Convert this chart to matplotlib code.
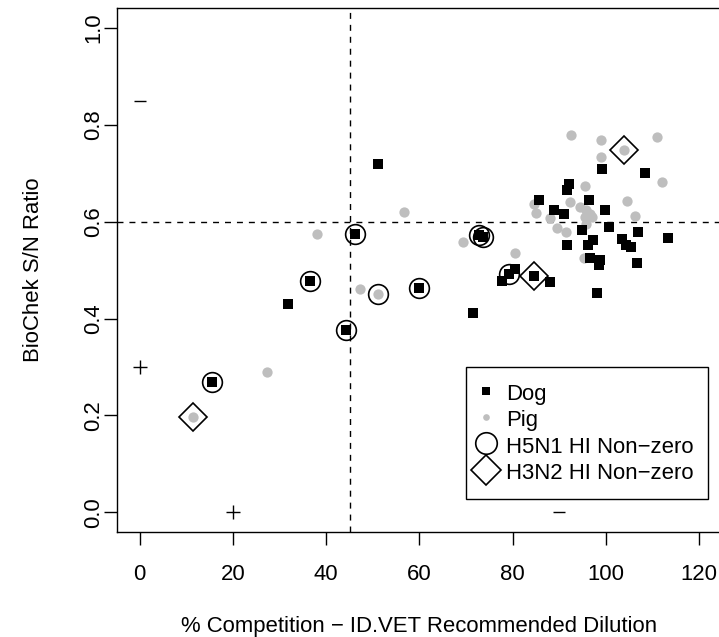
"""Dog / pig serology comparison: ID.VET competition vs BioChek S/N."""

import matplotlib
matplotlib.use("Agg")
import matplotlib.pyplot as plt
from matplotlib.lines import Line2D

plt.rcParams["font.family"] = ["Liberation Sans", "DejaVu Sans"]

# --- data ------------------------------------------------------------------
# hi: "" = none, "H5" = H5N1 HI non-zero, "H3" = H3N2 HI non-zero
dog_x = [51.0, 46.1, 36.5, 31.7, 44.2, 15.5, 59.8, 72.8, 73.6, 71.5,
         80.5, 79.2, 77.6, 84.6, 88.1, 85.6, 91.6, 92.0, 96.4, 88.8,
         91.0, 94.8, 91.6, 97.3, 96.2, 96.6, 98.4, 98.7, 98.0, 99.1,
         108.4, 99.8, 100.6, 106.8, 103.4, 113.4, 104.3, 105.3, 106.6]
dog_y = [0.718, 0.575, 0.478, 0.429, 0.377, 0.269, 0.463, 0.573, 0.569, 0.412,
         0.503, 0.491, 0.478, 0.487, 0.475, 0.644, 0.665, 0.677, 0.644, 0.623,
         0.616, 0.582, 0.551, 0.563, 0.551, 0.524, 0.510, 0.521, 0.453, 0.708,
         0.700, 0.623, 0.589, 0.579, 0.564, 0.566, 0.551, 0.548, 0.514]
dog_hi = ["", "H5", "H5", "", "H5", "H5", "H5", "H5", "H5", "",
          "", "H5", "", "H3", "", "", "", "", "", "",
          "", "", "", "", "", "", "", "", "", "",
          "", "", "", "", "", "", "", "", ""]

pig_x = [38.1, 47.2, 51.1, 27.4, 11.5, 56.7, 69.3, 80.5, 92.4, 99.0,
         103.9, 111.0, 99.0, 112.0, 95.6, 92.3, 104.6, 84.5, 85.0, 94.4,
         95.8, 95.5, 96.9, 106.2, 88.0, 95.8, 89.4, 91.5, 95.2, 96.5]
pig_y = [0.574, 0.460, 0.451, 0.289, 0.197, 0.619, 0.557, 0.536, 0.778, 0.768,
         0.747, 0.774, 0.733, 0.682, 0.673, 0.640, 0.642, 0.636, 0.618, 0.630,
         0.623, 0.609, 0.609, 0.611, 0.607, 0.596, 0.587, 0.579, 0.525, 0.615]
pig_hi = ["", "", "H5", "", "H3", "", "", "", "", "",
          "H3", "", "", "", "", "", "", "", "", "",
          "", "", "", "", "", "", "", "", "", ""]

# kit controls
pos_ctrl_x = [0, 20]
pos_ctrl_y = [0.30, 0.0]
neg_ctrl_x = [0, 90]
neg_ctrl_y = [0.85, 0.0]

idvet_cutoff = 45
biochek_cutoff = 0.6

xticks = [0, 20, 40, 60, 80, 100, 120]
yticks = [0.0, 0.2, 0.4, 0.6, 0.8, 1.0]

FS = 15.9
GREY = "#bebebe"

# --- figure ------------------------------------------------------------------
fig = plt.figure(figsize=(7.19, 6.37), dpi=100)
ax = fig.add_axes([0.1632, 0.1653, 0.8404, 0.8214])

ax.plot(pig_x, pig_y, "o", color=GREY, ms=7.4, mew=0, ls="none", zorder=3)
ax.plot(dog_x, dog_y, "s", color="black", ms=6.8, mew=0, ls="none", zorder=4)

# HI overlays
for xs, ys, flags in [(dog_x, dog_y, dog_hi), (pig_x, pig_y, pig_hi)]:
    h5 = [(x, y) for x, y, f in zip(xs, ys, flags) if f == "H5"]
    h3 = [(x, y) for x, y, f in zip(xs, ys, flags) if f == "H3"]
    if h5:
        ax.plot(*zip(*h5), "o", mfc="none", mec="black", ms=14.2, mew=1.2,
                ls="none", zorder=5)
    if h3:
        ax.plot(*zip(*h3), "D", mfc="none", mec="black", ms=14.0, mew=1.2,
                ls="none", zorder=5)

ax.plot(pos_ctrl_x, pos_ctrl_y, "+", color="black", ms=10.6, mew=1.0, ls="none")
ax.plot(neg_ctrl_x, neg_ctrl_y, "_", color="black", ms=9.1, mew=1.0, ls="none")

ax.axvline(idvet_cutoff, color="black", lw=1.0, dashes=(4.3, 4.3), zorder=2)
ax.axhline(biochek_cutoff, color="black", lw=1.0, dashes=(4.3, 4.3), zorder=2)

ax.set_xlim(-4.8, 124.8)
ax.set_ylim(-0.04, 1.04)
ax.set_xticks(xticks)
ax.set_xticklabels([str(t) for t in xticks])
ax.set_yticks(yticks)
ax.set_yticklabels([f"{t:.1f}" for t in yticks])

for sp in ax.spines.values():
    sp.set_linewidth(1.0)
ax.tick_params(axis="both", direction="out", length=9.6, width=1.0,
               labelsize=FS, color="black")
ax.tick_params(axis="x", pad=14.0)
ax.tick_params(axis="y", pad=0, labelrotation=90)
for lab in ax.get_yticklabels():
    lab.set_va("center")

ax.set_xlabel("% Competition \u2212 ID.VET Recommended Dilution", fontsize=FS)
ax.set_ylabel("BioChek S/N Ratio", fontsize=FS)
ax.xaxis.set_label_coords(0.5, -0.1607)
ax.yaxis.set_label_coords(-0.121, 0.5)

handles = [
    Line2D([], [], marker="s", color="black", ms=5.6, mew=0, ls="none"),
    Line2D([], [], marker="o", color=GREY, ms=4.8, mew=0, ls="none"),
    Line2D([], [], marker="o", mfc="none", mec="black", ms=15.5, mew=1.2, ls="none"),
    Line2D([], [], marker="D", mfc="none", mec="black", ms=15.0, mew=1.2, ls="none"),
]
labels = ["Dog", "Pig", "H5N1 HI Non\u2212zero", "H3N2 HI Non\u2212zero"]
leg = ax.legend(handles, labels, loc="upper left", bbox_to_anchor=(0.577, 0.3148),
                borderaxespad=0, fontsize=FS, frameon=True, fancybox=False,
                borderpad=0.66, labelspacing=0.12, handlelength=0.52,
                handleheight=1.18, handletextpad=0.63)
leg.get_frame().set_edgecolor("black")
leg.get_frame().set_linewidth(1.0)
leg.get_frame().set_alpha(1)

fig.savefig("out.png", dpi=100)
